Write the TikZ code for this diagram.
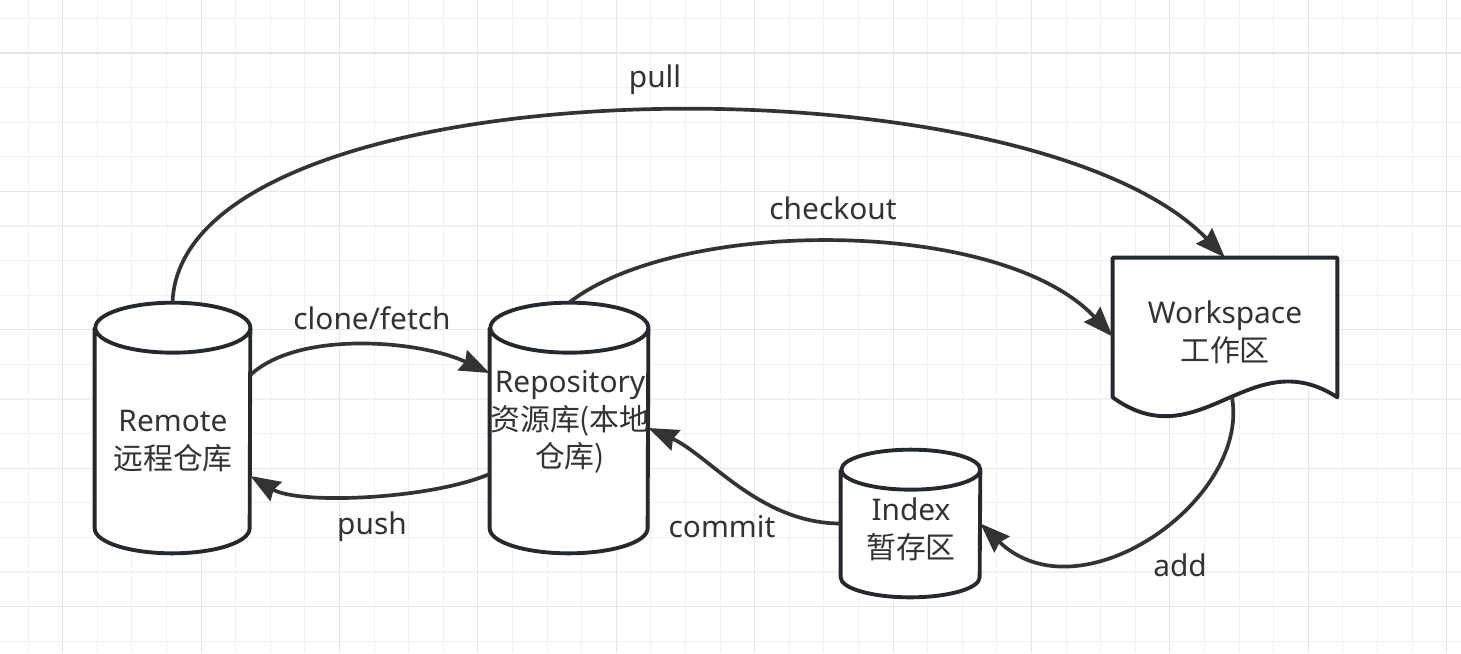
\documentclass[tikz,border=0pt]{standalone}
\usepackage{fontspec}
\setmainfont{Noto Sans}
\newfontfamily\cjk{Noto Sans CJK SC}
\usetikzlibrary{arrows.meta}
\definecolor{inkline}{HTML}{333333}
\definecolor{inkshape}{HTML}{23292F}
\definecolor{inktext}{HTML}{333333}
\definecolor{gridminor}{HTML}{F1F1F1}
\definecolor{gridmajor}{HTML}{E5E5E5}

\begin{document}
\begin{tikzpicture}[x=0.02cm,y=-0.02cm]
      \tikzset{
        every node/.style={text=inktext,font=\fontsize{17}{21.5}\selectfont,align=center,inner sep=0pt},
        store/.style={rectangle},
        storeline/.style={draw=inkshape,line width=2.2pt,fill=white,line join=round},
        sheet/.style={rectangle,minimum width=4.48cm,minimum height=2.78cm},
        flow/.style={draw=inkline,line width=2.1pt,-{Stealth[length=0.6cm,width=0.44cm,inset=0.06cm]}}
      }

      % background grid
      \fill[white] (0,0) rectangle (1461,653);
      \useasboundingbox (0,0) rectangle (1461,653);
      \foreach \i in {0,...,41}
        \draw[gridminor,line width=0.6pt] ({28.1+34.6*\i},0) -- ({28.1+34.6*\i},653);
      \foreach \j in {0,...,18}
        \draw[gridminor,line width=0.6pt] (0,{18.4+34.6*\j}) -- (1461,{18.4+34.6*\j});
      \foreach \i in {0,...,10}
        \draw[gridmajor,line width=0.6pt] ({62.7+138.4*\i},0) -- ({62.7+138.4*\i},653);
      \foreach \j in {0,...,4}
        \draw[gridmajor,line width=0.6pt] (0,{53+138.4*\j}) -- (1461,{53+138.4*\j});

      % stores
      \node[store,minimum width=3.1cm,minimum height=5cm] (remote) at (172.5,428) {};
      \node[store,minimum width=3.16cm,minimum height=5cm] (repo) at (569,428) {};
      \node[store,minimum width=2.78cm,minimum height=2.94cm] (index) at (910.5,523.5) {};
      \foreach \n/\rx/\ry in {remote/1.55/0.5, repo/1.58/0.5, index/1.39/0.4}
        \draw[storeline] ([yshift=-\ry cm]\n.north west) -- ([yshift=\ry cm]\n.south west)
          arc[start angle=180,end angle=360,x radius=\rx cm,y radius=\ry cm]
          -- ([yshift=-\ry cm]\n.north east)
          arc[start angle=0,end angle=360,x radius=\rx cm,y radius=\ry cm];

      \node[sheet] (ws) at (1225,327.5) {};
      \draw[storeline]
        (ws.south west) -- (ws.north west) -- (ws.north east) -- (ws.south east)
        .. controls +(-87,-57) and +(87,63) .. (ws.south west) -- cycle;

      \node (remotetext) at (173,441) {Remote\\{\cjk 远程仓库}};
      \node (repotext) at (570,422) {Repository\\{\cjk 资源库(本地}\\{\cjk 仓库)}};
      \node (indextext) at (911,529) {Index\\{\cjk 暂存区}};
      \node (wstext) at (1225,332.5) {Workspace\\{\cjk 工作区}};

      % labels
      \node (pulllbl) at (655,80) {pull};
      \node (checkoutlbl) at (833,208) {checkout};
      \node (clonelbl) at (372,318) {clone/fetch};
      \node (pushlbl) at (372,527) {push};
      \node (commitlbl) at (722,527) {commit};
      \node (addlbl) at (1180,565) {add};

      \path (remote.north) edge[flow,out=88,in=134,out distance=4.8cm,in distance=5.78cm] (ws.north)
            (repo.north) edge[flow,out=38,in=133,out distance=2.78cm,in distance=3.28cm] ([yshift=-0.18cm]ws.west)
            ([yshift=1.06cm]remote.east) edge[flow,out=43,in=155,out distance=1.32cm,in distance=1.55cm] ([yshift=1.1cm]repo.west)
            ([yshift=-0.92cm]repo.west) edge[flow,out=203,in=329,out distance=1.31cm,in distance=1.12cm] ([yshift=-0.96cm]remote.east)
            (index.west) edge[flow,out=180,in=336,out distance=1.62cm,in distance=1.32cm] (repo.east)
            ([xshift=0.14cm]ws.south) edge[flow,out=280,in=316,out distance=2.09cm,in distance=2.76cm] (index.east);
    \end{tikzpicture}
\end{document}
